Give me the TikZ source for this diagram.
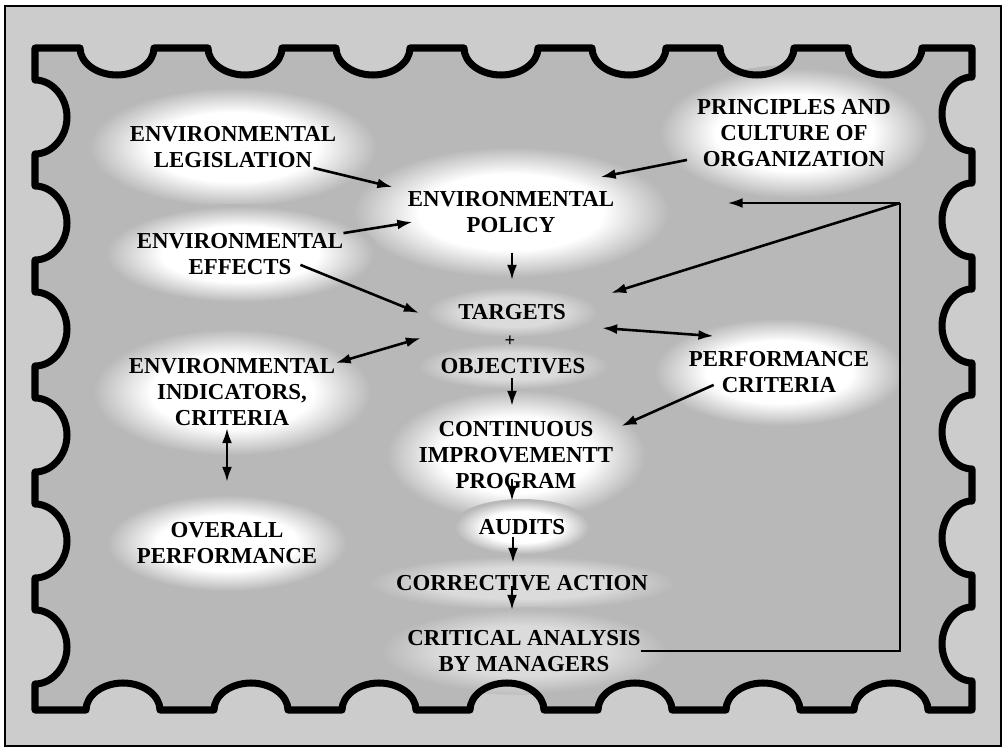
\documentclass[tikz,border=0pt]{standalone}
\usepackage{fontspec}
\setmainfont{Liberation Serif}
\usetikzlibrary{arrows.meta,calc,backgrounds}
\definecolor{stampgray}{gray}{0.72}
\definecolor{margingray}{gray}{0.80}
% the path's edge sits at 25bp of the shading
\pgfdeclareradialshading{glow}{\pgfpoint{0bp}{0bp}}{color(0bp)=(white); color(14bp)=(white); color(24bp)=(stampgray); color(50bp)=(stampgray)}

\begin{document}
\begin{tikzpicture}[x=0.3mm,y=-0.3mm,
    lbl/.style={font=\fontsize{19.5}{22.2}\selectfont\bfseries,align=center,inner sep=0pt},
    arr/.style={line width=2.2pt,-{Latex[length=13pt,width=8.5pt]}},
    dbl/.style={line width=2.2pt,{Latex[length=13pt,width=8.5pt]}-{Latex[length=13pt,width=8.5pt]}},
    feedback/.style={line width=1.6pt}]
  \useasboundingbox (0,0) rectangle (1005,750);

  % left column
  \node[lbl] (leg) at (233,147) {ENVIRONMENTAL\\LEGISLATION};
  \node[lbl] (effects) at (240,254) {ENVIRONMENTAL\\EFFECTS};
  \node[lbl] (indicators) at (232,392) {ENVIRONMENTAL\\INDICATORS,\\CRITERIA};
  \node[lbl] (overall) at (227,543) {OVERALL\\PERFORMANCE};

  % middle column
  \node[lbl] (policy) at (511,212) {ENVIRONMENTAL\\POLICY};
  \node[lbl] (targets) at (512,312) {TARGETS};
  \node[font=\fontsize{16}{16}\selectfont\bfseries,inner sep=0pt] (plus) at (510,341) {+};
  \node[lbl] (objectives) at (513,366) {OBJECTIVES};
  \node[lbl] (program) at (516,455) {CONTINUOUS\\IMPROVEMENTT\\PROGRAM};
  \node[lbl] (audits) at (522,527) {AUDITS};
  \node[lbl] (corrective) at (522,583) {CORRECTIVE ACTION};
  \node[lbl] (critical) at (524,651) {CRITICAL ANALYSIS\\BY MANAGERS};

  % right column
  \node[lbl] (principles) at (794,133) {PRINCIPLES AND\\CULTURE OF\\ORGANIZATION};
  \node[lbl] (perfcrit) at (779,372) {PERFORMANCE\\CRITERIA};

  \coordinate (fbtop) at (900,203);

  % arrows
  \draw[arr] ($(leg.south east)+(-23,0)$) -- ($(policy.north west)+(-15,-4)$);
  \draw[arr] (effects.north east) -- ($(policy.west)+(5,10)$);
  \draw[arr] ($(principles.south west)+(-10,-7)$) -- ($(policy.north east)+(-14,-14)$);
  \draw[arr] ($(policy.south)+(1,20)$) -- ($(targets.north)+(0,-24)$);
  \draw[arr] ($(effects.south east)+(-43,-10)$) -- ($(targets.west)+(-39,1)$);
  \draw[dbl] ($(indicators.north east)+(0,5)$) -- ($(targets.south west)+(-37,18)$);
  \draw[dbl] ($(targets.east)+(36,16)$) -- ($(perfcrit.north west)+(25,-15)$);
  \draw[arr] ($(perfcrit.south west)+(25,-8)$) -- ($(program.north east)+(8,5)$);
  \draw[arr] ($(objectives.south)+(-1,4)$) -- ($(program.north)+(-4,-15)$);
  \draw[arr] ($(program.south)+(-4,-10)$) -- ($(audits.north)+(-10,-18)$);
  \draw[arr] ($(audits.south)+(-9,2)$) -- ($(corrective.north)+(-9,-12)$);
  \draw[arr] ($(corrective.south)+(-10,-5)$) -- ($(critical.north)+(-12,-20)$);
  \draw[dbl] ($(indicators.south)+(-5,2)$) -- ($(overall.north)+(0,-40)$);

  % feedback loop
  \draw[feedback] (critical.east) -| (fbtop);
  \draw[arr] (fbtop) -- ($(policy.east)+(113,-9)$);
  \draw[arr] (fbtop) -- ($(targets.east)+(45,-19)$);

  \begin{scope}[on background layer]
    \draw[line width=1.2pt,fill=margingray] (5,6) rectangle (1001,746);
    % stamp outline
    \path[fill=stampgray,save path=\stamppath] (35,48)
      \foreach \a in {80,208,336,464,592,720,848} {
        -- (\a,48) .. controls (\a,63) and (\a+17,75) .. (\a+37,75)
        .. controls (\a+57,75) and (\a+74,63) .. (\a+74,48) }
      -- (972,48)
      \foreach \a in {77,183,289,395,501,607} {
        -- (972,\a) .. controls (956,\a) and (942,\a+17) .. (942,\a+37)
        .. controls (942,\a+57) and (956,\a+74) .. (972,\a+74) }
      -- (972,710)
      \foreach \a in {928,800,672,544,416,288,160} {
        -- (\a,710) .. controls (\a,695) and (\a-17,683) .. (\a-37,683)
        .. controls (\a-57,683) and (\a-74,695) .. (\a-74,710) }
      -- (35,710)
      \foreach \a in {684,578,472,366,260,154} {
        -- (35,\a) .. controls (52,\a) and (67,\a-17) .. (67,\a-37)
        .. controls (67,\a-57) and (52,\a-74) .. (35,\a-74) }
      -- cycle;
    % white haze behind the labels
    \foreach \n/\rx/\ry in {leg/150/62,policy/165/68,principles/140/68,effects/140/50,
        indicators/145/66,overall/125/50,perfcrit/130/56,program/135/68,audits/70/28}
      \shade[shading=glow] (\n) ellipse [x radius=\rx, y radius=\ry];
    \foreach \n/\rx/\ry in {targets/90/26,objectives/100/24,corrective/160/28,critical/150/44}
      \shade[shading=glow,opacity=.5] (\n) ellipse [x radius=\rx, y radius=\ry];
    \draw[line width=6pt,line join=round,use path=\stamppath];
  \end{scope}
\end{tikzpicture}
\end{document}
